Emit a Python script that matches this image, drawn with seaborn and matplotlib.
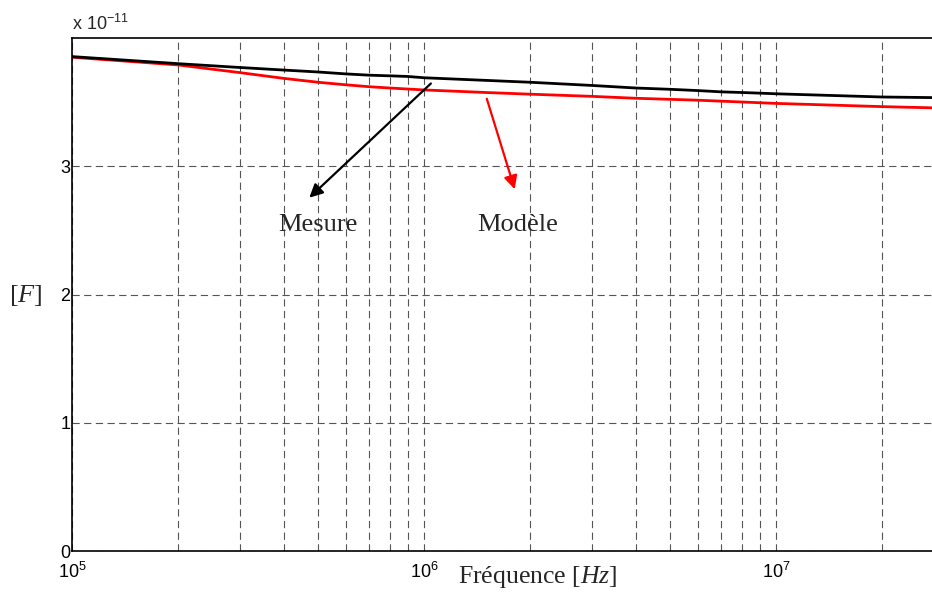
import numpy as np
import pandas as pd
import matplotlib
matplotlib.use("Agg")
import matplotlib.pyplot as plt
import seaborn as sns

# capacitance vs frequency, values in units of 1e-11 F
freq_mes = [1e5, 2e5, 3e5, 4e5, 5e5, 6e5, 7e5, 8e5, 9e5, 1e6, 2e6, 3e6, 4e6,
            5e6, 6e6, 7e6, 8e6, 9e6, 1e7, 2e7, 2.83e7]
cap_mes = [3.855, 3.80, 3.77, 3.75, 3.735, 3.72, 3.71, 3.705, 3.70, 3.69, 3.655,
           3.63, 3.61, 3.60, 3.59, 3.58, 3.575, 3.57, 3.565, 3.54, 3.535]
freq_mod = [1e5, 2e5, 3e5, 4e5, 5e5, 6e5, 7e5, 8e5, 1e6, 1.5e6, 2e6, 3e6, 4e6,
            6e6, 1e7, 2e7, 2.83e7]
cap_mod = [3.85, 3.79, 3.73, 3.685, 3.655, 3.635, 3.62, 3.61, 3.595, 3.575,
           3.562, 3.545, 3.53, 3.515, 3.49, 3.465, 3.455]

df_mes = pd.DataFrame({"f": freq_mes, "C": cap_mes})
df_mod = pd.DataFrame({"f": freq_mod, "C": cap_mod})

sns.set_style("white")
plt.rcParams["font.family"] = ["Liberation Sans", "DejaVu Sans"]
plt.rcParams["mathtext.fontset"] = "custom"
plt.rcParams["mathtext.rm"] = "Liberation Serif"
plt.rcParams["mathtext.it"] = "Liberation Serif:italic"
plt.rcParams["mathtext.sf"] = "Liberation Sans"

fig = plt.figure(figsize=(9.32, 5.94), dpi=100)
ax = fig.add_axes([72 / 932, 43 / 594, 863 / 932, 513 / 594])

sns.lineplot(data=df_mod, x="f", y="C", color="red", lw=2, ax=ax)
sns.lineplot(data=df_mes, x="f", y="C", color="black", lw=2, ax=ax)

ax.set_xscale("log")
ax.set_xlim(1e5, 2.83e7)
ax.set_ylim(0, 4.0)

ax.set_xticks([1e5, 1e6, 1e7])
ax.set_xticklabels([r"$\mathsf{10^{5}}$", r"$\mathsf{10^{6}}$", r"$\mathsf{10^{7}}$"])
ax.set_yticks([0, 1, 2, 3])
ax.set_yticklabels(["0", "1", "2", "3"])
ax.xaxis.set_minor_locator(matplotlib.ticker.LogLocator(base=10, subs=np.arange(2, 10)))
ax.xaxis.set_minor_formatter(matplotlib.ticker.NullFormatter())
ax.tick_params(axis="both", which="both", direction="in", labelsize=13, colors="black")
ax.tick_params(axis="x", which="major", length=5, pad=8)
ax.tick_params(axis="x", which="minor", length=3)
ax.tick_params(axis="y", length=5, pad=1)

ax.grid(True, which="both", axis="x", color="#555555", lw=0.8, ls=(0, (6.5, 4)))
ax.grid(True, which="major", axis="y", color="#555555", lw=0.8, ls=(0, (6.5, 4)))

for side in ["left", "bottom", "top"]:
    ax.spines[side].set_color("black")
    ax.spines[side].set_linewidth(1.2)
ax.spines["right"].set_visible(False)

ax.set_xlabel("Fréquence [$Hz$]", family="Liberation Serif", fontsize=18.5, va="center")
ax.set_ylabel("[$F$]", family="Liberation Serif", fontsize=19, rotation=0,
              va="center", ha="center")
ax.yaxis.set_label_coords(-0.0535, 0.499)
ax.xaxis.set_label_coords(0.54, -0.05)

ax.text(0.0, 1.008, r"x $\mathsf{10^{-11}}$", transform=ax.transAxes, fontsize=13,
        ha="left", va="bottom")

ax.annotate("", xy=(4.66e5, 2.74), xytext=(1.06e6, 3.66),
            arrowprops=dict(arrowstyle="-|>", color="black", lw=1.6, mutation_scale=20))
ax.annotate("", xy=(1.82e6, 2.80), xytext=(1.5e6, 3.547),
            arrowprops=dict(arrowstyle="-|>", color="red", lw=1.6, mutation_scale=20))
ax.text(5.0e5, 2.54, "Mesure", family="Liberation Serif", fontsize=19, ha="center", va="center")
ax.text(1.84e6, 2.54, "Modèle", family="Liberation Serif", fontsize=19, ha="center", va="center")

ax.set_facecolor("white")
fig.savefig("out.png", dpi=100, facecolor="white")
